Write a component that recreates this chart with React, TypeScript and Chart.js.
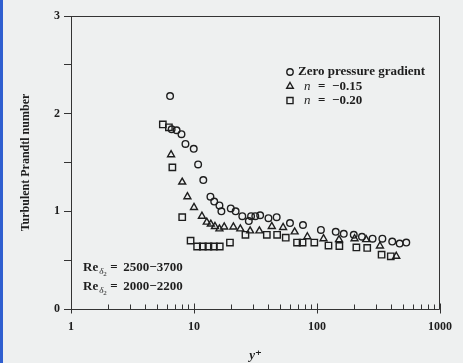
import React, { useEffect, useRef } from 'react';
import { Chart, registerables } from 'chart.js';

Chart.register(...registerables);

// Zero pressure gradient (circles)
const zeroX = [6.39, 6.58, 7.22, 7.91, 8.52, 9.95, 10.8, 11.9, 13.6, 14.6, 16.1, 16.7, 19.9, 21.8, 24.7, 27.9, 29.1, 31.5, 34.5, 40.3, 47.0, 60.3, 76.9, 107.6, 142, 165, 199, 232, 283, 340, 409, 470, 532];
const zeroY = [2.18, 1.84, 1.83, 1.79, 1.69, 1.64, 1.48, 1.32, 1.15, 1.10, 1.06, 1.00, 1.03, 1.00, 0.95, 0.90, 0.95, 0.95, 0.96, 0.93, 0.94, 0.88, 0.86, 0.81, 0.79, 0.77, 0.76, 0.74, 0.72, 0.72, 0.69, 0.67, 0.68];

// n = -0.15 (triangles)
const n15X = [6.51, 8.02, 8.84, 10.0, 11.6, 12.7, 13.7, 14.8, 16.1, 17.6, 20.9, 23.8, 28.6, 34.0, 42.9, 53.0, 65.8, 83.5, 113, 151, 202, 251, 325, 441];
const n15Y = [1.58, 1.30, 1.15, 1.04, 0.95, 0.89, 0.87, 0.845, 0.82, 0.84, 0.84, 0.82, 0.80, 0.80, 0.845, 0.835, 0.79, 0.74, 0.72, 0.71, 0.72, 0.71, 0.645, 0.54];

// n = -0.20 (squares)
const n20X = [5.58, 6.25, 6.67, 8.02, 9.38, 10.6, 11.8, 13.1, 14.5, 16.2, 19.6, 26.2, 39.1, 47.4, 55.7, 68.8, 76.3, 95.1, 124, 152, 209, 256, 335, 398];
const n20Y = [1.89, 1.86, 1.45, 0.94, 0.70, 0.64, 0.64, 0.64, 0.64, 0.64, 0.68, 0.76, 0.76, 0.76, 0.73, 0.68, 0.68, 0.68, 0.65, 0.645, 0.63, 0.625, 0.556, 0.54];

const xTickValues = [1, 2, 3, 4, 5, 6, 7, 8, 9, 10, 20, 30, 40, 50, 60, 70, 80, 90, 100, 200, 300, 400, 500, 600, 700, 800, 900, 1000];
const xLabelValues = [1, 10, 100, 1000];
const yLabelValues = [0, 1, 2, 3];

const seriesNames = ['Zero pressure gradient', 'n = \u22120.15', 'n = \u22120.20'];
const reLines = ['2500\u22123700', '2000\u22122200'];

const INK = '#1e1e1e';
const SERIF = '"Liberation Serif", "DejaVu Serif", serif';

function toPoints(xs: number[], ys: number[]) {
  return xs.map((x, i) => ({ x, y: ys[i] }));
}

function drawMarker(ctx: CanvasRenderingContext2D, style: string, x: number, y: number, r: number) {
  ctx.beginPath();
  if (style === 'circle') {
    ctx.arc(x, y, r, 0, Math.PI * 2);
  } else if (style === 'triangle') {
    const h = r * 1.5;
    ctx.moveTo(x, y - r);
    ctx.lineTo(x + r * 0.866, y + r * 0.5);
    ctx.lineTo(x - r * 0.866, y + r * 0.5);
    ctx.closePath();
  } else {
    const s = r * Math.SQRT1_2;
    ctx.rect(x - s, y - s, 2 * s, 2 * s);
  }
  ctx.stroke();
}

const bgPlugin = {
  id: 'paper',
  beforeDraw(chart: any) {
    const { ctx, width, height } = chart;
    ctx.save();
    ctx.fillStyle = '#eef0f0';
    ctx.fillRect(0, 0, width, height);
    ctx.fillStyle = '#2f5fd0';
    ctx.fillRect(0, 0, 3, height);
    ctx.restore();
  },
};

const framePlugin = {
  id: 'frame',
  afterDraw(chart: any) {
    const { ctx, chartArea } = chart;
    const { left, right, top, bottom } = chartArea;
    const xs = chart.scales.x;
    ctx.save();
    ctx.strokeStyle = '#333';
    ctx.lineWidth = 1;
    const L = Math.round(left) + 0.5;
    const R = Math.round(right) - 0.5;
    const T = Math.round(top) + 0.5;
    const B = Math.round(bottom) + 0.5;
    ctx.beginPath();
    ctx.moveTo(L - 3, T);
    ctx.lineTo(R, T);
    ctx.lineTo(R, B);
    ctx.moveTo(L - 7, B);
    ctx.lineTo(R, B);
    ctx.moveTo(L, T);
    ctx.lineTo(L, B + 3);
    ctx.stroke();
    // x ticks pointing inward
    ctx.beginPath();
    xTickValues.forEach((v) => {
      const px = Math.round(xs.getPixelForValue(v)) + 0.5;
      const major = xLabelValues.includes(v);
      ctx.moveTo(px, B - (major ? 6 : 5));
      ctx.lineTo(px, B + (major ? 4 : 0));
    });
    ctx.stroke();

    // legend
    const ds = chart.data.datasets;
    const lx = left + 219;
    const ly0 = top + 56;
    ctx.fillStyle = INK;
    ctx.strokeStyle = INK;
    ctx.lineWidth = 1.4;
    ctx.textBaseline = 'middle';
    ds.forEach((d: any, i: number) => {
      const y = ly0 + i * 14.3;
      drawMarker(ctx, d.pointStyle, lx, y, i === 0 ? 3.2 : i === 1 ? 3.8 : 4.3);
      if (i === 0) {
        ctx.font = `bold 13px ${SERIF}`;
        ctx.fillText(seriesNames[0], lx + 8, y);
      } else {
        const parts = seriesNames[i].split(' = ');
        ctx.font = `italic 13px ${SERIF}`;
        ctx.fillText(parts[0], lx + 14, y);
        ctx.font = `bold 13px ${SERIF}`;
        ctx.fillText('=', lx + 28, y);
        ctx.fillText(parts[1], lx + 42, y);
      }
    });

    // Reynolds number annotations
    reLines.forEach((txt, i) => {
      const y = top + 252 + i * 19;
      let x = left + 12;
      ctx.font = `bold 13px ${SERIF}`;
      ctx.fillText('Re', x, y);
      x += ctx.measureText('Re').width + 1;
      ctx.font = `italic 9px ${SERIF}`;
      ctx.fillText('\u03b4', x, y + 4);
      x += ctx.measureText('\u03b4').width;
      ctx.font = `7px ${SERIF}`;
      ctx.fillText('2', x, y + 6);
      x += 7;
      ctx.font = `bold 13px ${SERIF}`;
      ctx.fillText('=', x, y);
      ctx.fillText(txt, x + 13, y);
    });
    ctx.restore();
  },
};

export default function App() {
  const ref = useRef<HTMLCanvasElement>(null);
  useEffect(() => {
    document.body.style.margin = '0';
    const common = {
      showLine: false,
      borderColor: INK,
      backgroundColor: 'rgba(0,0,0,0)',
      borderWidth: 1.4,
    };
    const chart = new Chart(ref.current as HTMLCanvasElement, {
      type: 'scatter',
      data: {
        datasets: [
          { ...common, label: seriesNames[0], data: toPoints(zeroX, zeroY), pointStyle: 'circle', pointRadius: 3.3 },
          { ...common, label: seriesNames[1], data: toPoints(n15X, n15Y), pointStyle: 'triangle', pointRadius: 4 },
          { ...common, label: seriesNames[2], data: toPoints(n20X, n20Y), pointStyle: 'rect', pointRadius: 4.5 },
        ],
      },
      options: {
        responsive: false,
        animation: false,
        events: [],
        layout: { padding: { top: 16, right: 17, left: 0, bottom: 0 } },
        plugins: { legend: { display: false }, tooltip: { enabled: false } },
        scales: {
          x: {
            type: 'logarithmic',
            min: 1,
            max: 1000,
            afterFit: (s: any) => { s.height = 54; },
            afterBuildTicks: (s: any) => { s.ticks = xTickValues.map((v) => ({ value: v })); },
            grid: { display: false, drawTicks: false },
            border: { display: false },
            ticks: {
              autoSkip: false,
              maxRotation: 0,
              padding: 11,
              color: INK,
              font: { family: SERIF, size: 12, weight: 'bold' },
              callback: (v: any) => (xLabelValues.includes(Number(v)) ? String(v) : ''),
            },
            title: {
              display: true,
              text: 'y\u207A',
              color: INK,
              padding: { top: 3, bottom: 0 },
              font: { family: SERIF, size: 13, style: 'italic', weight: 'bold' },
            },
          },
          y: {
            type: 'linear',
            min: 0,
            max: 3,
            afterFit: (s: any) => { s.width = 71; },
            grid: { drawOnChartArea: false, drawTicks: true, tickLength: 7, color: '#333' },
            border: { display: false },
            ticks: {
              stepSize: 0.5,
              padding: 4,
              color: INK,
              font: { family: SERIF, size: 12, weight: 'bold' },
              callback: (v: any) => (yLabelValues.includes(Number(v)) ? String(v) : ''),
            },
            title: {
              display: true,
              text: 'Turbulent Prandtl number',
              color: INK,
              padding: { top: 19, bottom: 0 },
              font: { family: SERIF, size: 12, weight: 'bold' },
            },
          },
        },
      },
      plugins: [bgPlugin, framePlugin],
    } as any);
    return () => chart.destroy();
  }, []);
  return <canvas ref={ref} width={463} height={363} style={{ display: 'block' }} />;
}
